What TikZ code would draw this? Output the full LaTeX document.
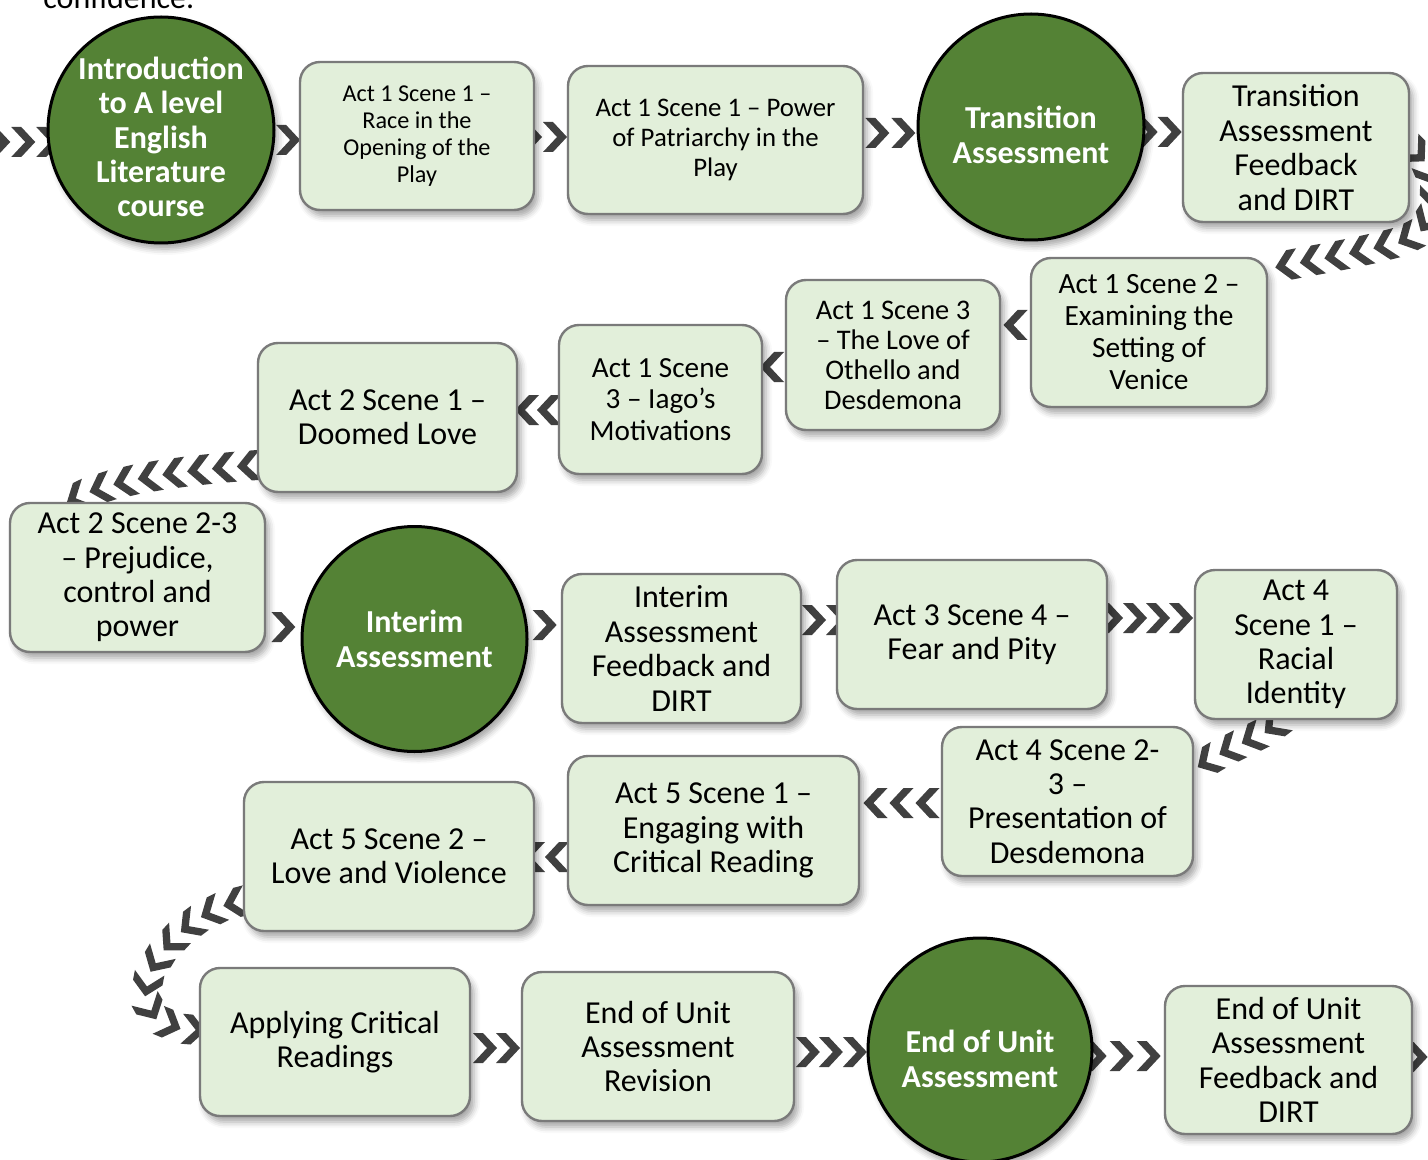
\documentclass[tikz,border=0pt]{standalone}
\usepackage{fontspec}
\setmainfont{Carlito}
\usetikzlibrary{decorations.markings,backgrounds,shadows.blur,calc}
\definecolor{boxfill}{HTML}{E2EFDA}
\definecolor{boxline}{HTML}{7A7A7A}
\definecolor{circfill}{HTML}{548235}
\definecolor{chevcol}{HTML}{404040}
\newcommand\fsXIV{\fontsize{16}{17.2}\selectfont}
\newcommand\fsXIII{\fontsize{14.7}{16}\selectfont}
\newcommand\fsIago{\fontsize{14.6}{15.8}\selectfont}
\newcommand\fsXIIh{\fontsize{14.2}{15}\selectfont}
\newcommand\fsXII{\fontsize{13.4}{14.8}\selectfont}
\newcommand\fsXI{\fontsize{12.1}{13.4}\selectfont}
\newcommand\chevshape{\fill[chevfill] (-12,-15) -- (-2,-15) -- (12,0) -- (-2,15) -- (-12,15) -- (2,0) -- cycle;}
\tikzset{
  boxshadow/.style={blur shadow={shadow xshift=2pt, shadow yshift=-3pt, shadow blur radius=3pt, shadow opacity=35}},
  box/.style={draw=boxline, fill=boxfill, line width=1.2pt, rounded corners=10pt,
    align=center, inner sep=2pt, font=\fsXIV, text=black, boxshadow},
  circ/.style={circle, draw=black, line width=1.5pt, fill=circfill, inner sep=0pt, boxshadow},
  circtext/.style={text=white, font=\fsXIV\bfseries, align=center, inner sep=0pt},
  chevfill/.style={fill=chevcol, draw=none},
  chevat/.style={postaction={decorate, decoration={markings,
    mark=at position 0.5 with {\foreach \o in {#1}{\begin{scope}[shift={(\o,0)}]\chevshape\end{scope}}}}}},
  chevalong/.style={postaction={decorate, decoration={markings,
    mark=between positions #1 and 1 step 12.5pt with {\chevshape}}}}
}
\begin{document}
\begin{tikzpicture}[x=0.5pt,y=-0.5pt]
\useasboundingbox (0,0) rectangle (1428,1160);

\node[anchor=base west, font=\fsXIV, inner sep=0pt] (conf) at (43,9) {confidence.};

% row 1
\node[circ, minimum size=113pt, label={[circtext, yshift=-3.5pt]center:{Introduction\\to A level\\English\\Literature\\course}}] (intro) at (161,130) {};
\node[box, font=\fsXI, minimum width=117pt, minimum height=74pt] (b1) at (417,136) {Act 1 Scene 1 –\\Race in the\\Opening of the\\Play};
\node[box, font=\fsXII, minimum width=147.5pt, minimum height=74pt] (b2) at (715.5,140) {Act 1 Scene 1 – Power\\of Patriarchy in the\\Play};
\node[circ, minimum size=113pt, label={[circtext, yshift=-4pt]center:{Transition\\Assessment}}] (trans) at (1031,127) {};
\node[box, minimum width=113pt, minimum height=74.5pt] (tfb) at (1296,147.5) {Transition\\Assessment\\Feedback\\and DIRT};

% row 2
\node[box, font=\fsXIII, minimum width=118pt, minimum height=74.5pt] (a12) at (1149,332.5) {Act 1 Scene 2 –\\Examining the\\Setting of\\Venice};
\node[box, font=\fsXIIh, minimum width=107pt, minimum height=75pt] (a13) at (893,355) {Act 1 Scene 3\\– The Love of\\Othello and\\Desdemona};
\node[box, font=\fsIago, minimum width=101.5pt, minimum height=74.5pt] (iago) at (660.5,399.5) {Act 1 Scene\\3 – Iago’s\\Motivations};
\node[box, minimum width=129.5pt, minimum height=74.5pt] (a21) at (387.5,417.5) {Act 2 Scene 1 –\\Doomed Love};

% row 3
\node[box, minimum width=127.5pt, minimum height=74.5pt] (a223) at (137.5,577.5) {Act 2 Scene 2-3\\– Prejudice,\\control and\\power};
\node[circ, minimum size=112.5pt, label={[circtext]center:{Interim\\Assessment}}] (interim) at (414.5,639) {};
\node[box, minimum width=119.5pt, minimum height=74.5pt] (ifb) at (681.5,648.5) {Interim\\Assessment\\Feedback and\\DIRT};
\node[box, minimum width=135pt, minimum height=74.5pt] (a34) at (972,634.5) {Act 3 Scene 4 –\\Fear and Pity};
\node[box, minimum width=101pt, minimum height=74.5pt] (a41) at (1296,644.5) {Act 4\\Scene 1 –\\Racial\\Identity};

% row 4
\node[box, minimum width=125.5pt, minimum height=74.5pt] (a423) at (1067.5,801.5) {Act 4 Scene 2-\\3 –\\Presentation of\\Desdemona};
\node[box, minimum width=145.5pt, minimum height=74.5pt] (a51) at (713.5,830.5) {Act 5 Scene 1 –\\Engaging with\\Critical Reading};
\node[box, minimum width=145pt, minimum height=74.5pt] (a52) at (389,856.5) {Act 5 Scene 2 –\\Love and Violence};

% row 5
\node[box, minimum width=135pt, minimum height=74pt] (apply) at (335,1042) {Applying Critical\\Readings};
\node[box, minimum width=136pt, minimum height=74.5pt] (eur) at (658,1046.5) {End of Unit\\Assessment\\Revision};
\node[circ, minimum size=112pt, label={[circtext, yshift=-4.5pt]center:{End of Unit\\Assessment}}] (euc) at (980,1050) {};
\node[box, minimum width=123.5pt, minimum height=74pt] (eufb) at (1288.5,1060) {End of Unit\\Assessment\\Feedback and\\DIRT};

\begin{scope}[on background layer]
\coordinate (in0) at (-40,142);
\coordinate (out0) at (1460,1057);
% row 1
\path[chevat={-5,20,45}] (in0) -- (in0 -| intro.west);
\path[chevat={1}] (intro.east |- 0,140) -- (b1.west |- 0,140);
\path[chevat={-21,4}] (b1.east |- 0,137) -- (b2.west |- 0,137);
\path[chevat={-13,13}] (b2.east |- 0,133) -- (trans.west |- 0,133);
\path[chevat={-18,6}] (trans.east |- 0,132) -- (tfb.west |- 0,132);
% down to row 2
\path[chevalong=4pt] (tfb.east) .. controls (1445,175) and (1445,230) .. (1395,243) .. controls (1345,256) and (1300,262) .. (a12.28);
% row 2
\path[chevat={0}] (a12.west |- 0,325) -- (a13.east |- 0,325);
\path[chevat={2}] (a13.west |- 0,367) -- (iago.east |- 0,367);
\path[chevat={-11,11}] (iago.west |- 0,410) -- (a21.east |- 0,410);
% down to row 3
\path[chevalong=4pt] (a21.200) .. controls (190,470) and (110,478) .. (a223.132);
% row 3
\path[chevat={0}] (a223.east |- 0,627) -- (interim.west |- 0,627);
\path[chevat={0}] (interim.east |- 0,625) -- (ifb.west |- 0,625);
\path[chevat={-5,19}] (ifb.east |- 0,620) -- (a34.west |- 0,620);
\path[chevat={-40,-16,7,30}] (a34.east |- 0,618) -- (a41.west |- 0,618);
% down to row 4
\path[chevalong=4pt] (a41.258) .. controls (1268,735) and (1230,745) .. (a423.14);
% row 4
\path[chevat={-27,-1,25}] (a423.west |- 0,803) -- (a51.east |- 0,803);
\path[chevat={-6,18}] (a51.west |- 0,857) -- (a52.east |- 0,857);
% down to row 5
\path[chevalong=4pt] (a52.197) .. controls (165,915) and (95,1025) .. (apply.175);
% row 5
\path[chevat={-11,12}] (apply.east |- 0,1048) -- (eur.west |- 0,1048);
\path[chevat={-23,0,24}] (eur.east |- 0,1052) -- (euc.west |- 0,1052);
\path[chevat={-34,-7,20}] (euc.east |- 0,1056) -- (eufb.west |- 0,1056);
\path[chevat={-21}] (eufb.east |- 0,1057) -- (out0);
\end{scope}
\end{tikzpicture}
\end{document}
